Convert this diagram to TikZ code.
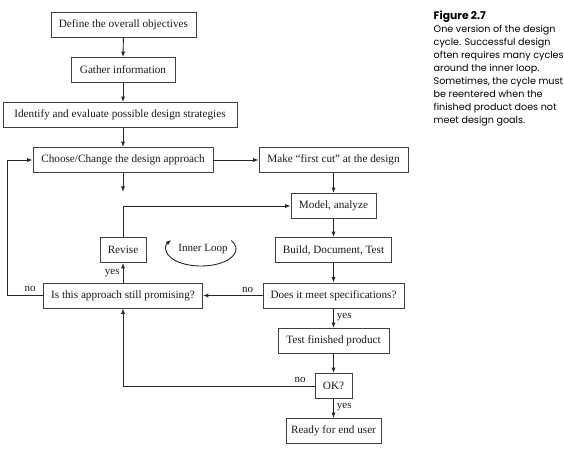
\documentclass[tikz,border=0pt]{standalone}
\usepackage{fontspec}
\setmainfont{Liberation Serif}
\newfontfamily\capfont{Poppins}
\usetikzlibrary{arrows.meta}
\tikzset{
  box/.style={draw=black!75, line width=0.7pt, minimum height=25pt, inner sep=0pt, font=\fontsize{11.2}{13}\selectfont, text=black!90},
  conn/.style={draw=black!85, line width=0.9pt},
  arr/.style={conn, -{Latex[length=5.5pt,width=4pt]}},
  lbl/.style={font=\fontsize{11}{13}\selectfont, inner sep=0pt, text=black!90}
}
\begin{document}
\begin{tikzpicture}[x=1pt,y=1pt]
\useasboundingbox (0,0) rectangle (564,450);
\node[box, minimum width=145pt] (def) at (123.4,425) {Define the overall objectives};
\node[box, minimum width=104pt] (gat) at (123,380) {Gather information};
\node[box, minimum width=234pt] (ide) at (120,335) {Identify and evaluate possible design strategies};
\node[box, minimum width=180pt] (cho) at (123,290) {Choose/Change the design approach};
\node[box, minimum width=149pt] (mak) at (333.5,290) {Make “first cut” at the design};
\node[box, minimum width=85pt] (mod) at (333.5,244) {Model, analyze};
\node[box, minimum width=46pt] (rev) at (123,200) {Revise};
\node[box, minimum width=116pt] (bui) at (333.5,200) {Build, Document, Test};
\node[box, minimum width=159pt] (isa) at (123,154.5) {Is this approach still promising?};
\node[box, minimum width=141pt] (doe) at (333.5,154.5) {Does it meet specifications?};
\node[box, minimum width=111pt] (tes) at (333.5,109) {Test finished product};
\node[box, minimum width=37pt] (ok) at (333.5,64) {OK?};
\node[box, minimum width=95pt] (rdy) at (333.5,19) {Ready for end user};
\node[lbl] (inner) at (203,201) {Inner Loop};
\coordinate (choend) at (123,258);

\draw[arr] (def.south) -- (gat.north);
\draw[arr] (gat.south) -- (gat.south |- ide.north);
\draw[arr] (gat.south |- ide.south) -- (cho.north);
\draw[arr] (cho.east) -- (mak.west);
\draw[arr] (cho.south) -- (choend);
\draw[arr] (mak.south) -- (mod.north);
\draw[arr] (mod.south) -- (bui.north);
\draw[arr] (bui.south) -- (doe.north);
\draw[arr] (doe.south) -- (tes.north) node[lbl, pos=0.45, right=3pt] (y1) {yes};
\draw[arr] (tes.south) -- (ok.north);
\draw[arr] (ok.south) -- (rdy.north) node[lbl, pos=0.45, right=3pt] (y2) {yes};
\draw[arr] (doe.west) -- (isa.east) node[lbl, pos=0.25, above=2pt] (n1) {no};
\draw[arr] (isa.north) -- (rev.south) node[lbl, midway, left=3pt] (y3) {yes};
\draw[arr] (rev.north) |- (mod.west);
\draw[arr] (isa.west) -- ++(-36,0) coordinate (lc) |- (cho.west);
\node[lbl] (n2) at (30,161) {no};
\draw[arr] (ok.west) -| (isa.south);
\node[lbl] (n3) at (300,70) {no};
\draw[conn, -{Latex[length=5.5pt,width=4pt]}] ([shift={(30:35pt and 17pt)}]201,250-49) arc[start angle=30, end angle=-212, x radius=35pt, y radius=17pt];

\node[anchor=north west, inner sep=0pt, align=left, font=\capfont\fontsize{9.6}{12.9}\selectfont] (cap) at (433.5,439)
{{\bfseries\fontsize{10.8}{12.9}\selectfont Figure 2.7}\\
One version of the design\\
cycle. Successful design\\
often requires many cycles\\
around the inner loop.\\
Sometimes, the cycle must\\
be reentered when the\\
finished product does not\\
meet design goals.};
\end{tikzpicture}
\end{document}
